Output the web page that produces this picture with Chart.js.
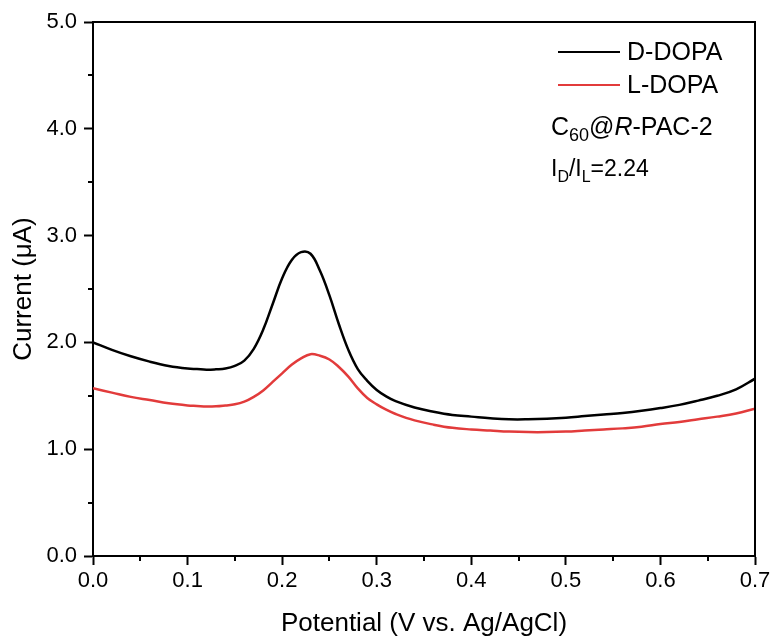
<!DOCTYPE html>
<html>
<head>
<meta charset="utf-8">
<script src="https://cdn.jsdelivr.net/npm/chart.js@4.4.1/dist/chart.umd.min.js"></script>
<style>
  html, body { margin: 0; padding: 0; background: #fff; }
  #wrap { width: 775px; height: 639px; position: relative; }
</style>
</head>
<body>
<div id="wrap"><canvas id="c" width="775" height="639"></canvas></div>
<script>
// ---- data ----
const potential = [0.00,0.02,0.04,0.06,0.08,0.10,0.11,0.12,0.13,0.14,0.15,0.16,0.17,0.18,0.19,0.20,0.21,0.22,0.23,0.24,0.25,0.26,0.27,0.28,0.29,0.30,0.31,0.32,0.34,0.36,0.38,0.40,0.42,0.44,0.46,0.48,0.50,0.52,0.54,0.56,0.58,0.60,0.62,0.64,0.66,0.68,0.70];
const dDopa = [2.00,1.93,1.87,1.82,1.78,1.755,1.75,1.745,1.748,1.755,1.78,1.83,1.94,2.12,2.36,2.60,2.77,2.845,2.83,2.67,2.44,2.17,1.93,1.75,1.64,1.555,1.495,1.45,1.39,1.35,1.32,1.305,1.29,1.28,1.28,1.285,1.295,1.31,1.325,1.34,1.36,1.385,1.415,1.455,1.50,1.56,1.66];
const lDopa = [1.57,1.53,1.49,1.46,1.43,1.41,1.405,1.40,1.402,1.41,1.42,1.445,1.49,1.55,1.63,1.71,1.79,1.85,1.89,1.875,1.84,1.77,1.68,1.57,1.48,1.42,1.37,1.33,1.27,1.23,1.20,1.185,1.175,1.165,1.16,1.16,1.165,1.175,1.185,1.195,1.21,1.235,1.255,1.28,1.305,1.335,1.38];
const seriesLabels = ['D-DOPA', 'L-DOPA'];
const xTickMajor = [0.0,0.1,0.2,0.3,0.4,0.5,0.6,0.7];
const yTickMajor = [0.0,1.0,2.0,3.0,4.0,5.0];
const xTitle = 'Potential (V vs. Ag/AgCl)';
const yTitle = 'Current (\u03bcA)';
const sampleName = ['C', '60', '@', 'R', '-PAC-2'];
const ratioText = ['I', 'D', '/I', 'L', '=2.24'];

const FONT = '"Liberation Sans", Arial, Helvetica, sans-serif';
const colors = ['#000000', '#e23b3b'];

const toXY = (xs, ys) => xs.map((x, i) => ({ x: x, y: ys[i] }));

const isMajor = (v, list) => list.some(m => Math.abs(m - v) < 1e-6);

const boxPlugin = {
  id: 'boxAndExtras',
  afterDraw(chart) {
    const { ctx, chartArea: a } = chart;
    ctx.save();
    // frame top & right
    ctx.strokeStyle = '#000';
    ctx.lineWidth = 2;
    ctx.beginPath();
    ctx.moveTo(a.left, a.top);
    ctx.lineTo(a.right, a.top);
    ctx.lineTo(a.right, a.bottom);
    ctx.stroke();
    // minor ticks
    const xs = chart.scales.x, ys = chart.scales.y;
    ctx.lineWidth = 2;
    ctx.beginPath();
    xs.ticks.forEach(t => {
      if (!isMajor(t.value, xTickMajor)) {
        const px = Math.round(xs.getPixelForValue(t.value));
        ctx.moveTo(px, a.bottom);
        ctx.lineTo(px, a.bottom + 5);
      }
    });
    ys.ticks.forEach(t => {
      if (!isMajor(t.value, yTickMajor)) {
        const py = Math.round(ys.getPixelForValue(t.value));
        ctx.moveTo(a.left, py);
        ctx.lineTo(a.left - 5, py);
      }
    });
    ctx.stroke();

    // legend
    const ds = chart.data.datasets;
    ctx.font = '25px ' + FONT;
    ctx.textBaseline = 'middle';
    ctx.textAlign = 'left';
    ds.forEach((d, i) => {
      const y = 52 + i * 33;
      ctx.strokeStyle = d.borderColor;
      ctx.lineWidth = 2;
      ctx.beginPath();
      ctx.moveTo(558, y);
      ctx.lineTo(620, y);
      ctx.stroke();
      ctx.fillStyle = '#000';
      ctx.fillText(d.label, 627, y + 1);
    });

    // annotation: C60@R-PAC-2 and ID/IL
    ctx.textBaseline = 'alphabetic';
    ctx.fillStyle = '#000';
    let x = 551, base = 135;
    const big = '25px ' + FONT, small = '18px ' + FONT, ital = 'italic 25px ' + FONT;
    const parts1 = [[sampleName[0], big, 0], [sampleName[1], small, 6], [sampleName[2], big, 0], [sampleName[3], ital, 0], [sampleName[4], big, 0]];
    parts1.forEach(([t, f, dy]) => { ctx.font = f; ctx.fillText(t, x, base + dy); x += ctx.measureText(t).width; });
    x = 551; base = 176;
    const big2 = '23px ' + FONT, small2 = '16px ' + FONT;
    const parts2 = [[ratioText[0], big2, 0], [ratioText[1], small2, 6], [ratioText[2], big2, 0], [ratioText[3], small2, 6], [ratioText[4], big2, 0]];
    parts2.forEach(([t, f, dy]) => { ctx.font = f; ctx.fillText(t, x, base + dy); x += ctx.measureText(t).width; });
    ctx.restore();
  }
};

new Chart(document.getElementById('c'), {
  type: 'scatter',
  data: {
    datasets: [
      { label: seriesLabels[0], data: toXY(potential, dDopa), borderColor: colors[0], backgroundColor: colors[0], showLine: true, borderWidth: 2.5, pointRadius: 0, tension: 0.4 },
      { label: seriesLabels[1], data: toXY(potential, lDopa), borderColor: colors[1], backgroundColor: colors[1], showLine: true, borderWidth: 2.5, pointRadius: 0, tension: 0.4 }
    ]
  },
  options: {
    responsive: false,
    animation: false,
    devicePixelRatio: 1,
    layout: { padding: { top: 22, right: 20, left: 0, bottom: 0 } },
    plugins: { legend: { display: false }, tooltip: { enabled: false } },
    scales: {
      x: {
        type: 'linear', min: 0, max: 0.7,
        afterFit: s => { s.height = 83; },
        afterBuildTicks: s => { const t = []; for (let i = 0; i <= 14; i++) t.push({ value: i * 0.05 }); s.ticks = t; },
        ticks: {
          autoSkip: false, maxRotation: 0, color: '#000', padding: 3,
          font: { family: FONT, size: 22 },
          callback: v => isMajor(v, xTickMajor) ? v.toFixed(1) : ''
        },
        grid: { drawOnChartArea: false, tickLength: 9, tickWidth: 2, tickColor: c => (c.tick && isMajor(c.tick.value, xTickMajor)) ? '#000' : 'rgba(0,0,0,0)' },
        border: { display: true, color: '#000', width: 2 },
        title: { display: true, text: xTitle, color: '#000', font: { family: FONT, size: 26 }, padding: { top: 4, bottom: 0 } }
      },
      y: {
        type: 'linear', min: 0, max: 5,
        afterFit: s => { s.width = 93; },
        afterBuildTicks: s => { const t = []; for (let i = 0; i <= 10; i++) t.push({ value: i * 0.5 }); s.ticks = t; },
        ticks: {
          autoSkip: false, color: '#000', padding: 7,
          font: { family: FONT, size: 22 },
          callback: v => isMajor(v, yTickMajor) ? v.toFixed(1) : ''
        },
        grid: { drawOnChartArea: false, tickLength: 9, tickWidth: 2, tickColor: c => (c.tick && isMajor(c.tick.value, yTickMajor)) ? '#000' : 'rgba(0,0,0,0)' },
        border: { display: true, color: '#000', width: 2 },
        title: { display: true, text: yTitle, color: '#000', font: { family: FONT, size: 26 }, padding: { top: 8, bottom: 4 } }
      }
    }
  },
  plugins: [boxPlugin]
});
</script>
</body>
</html>
